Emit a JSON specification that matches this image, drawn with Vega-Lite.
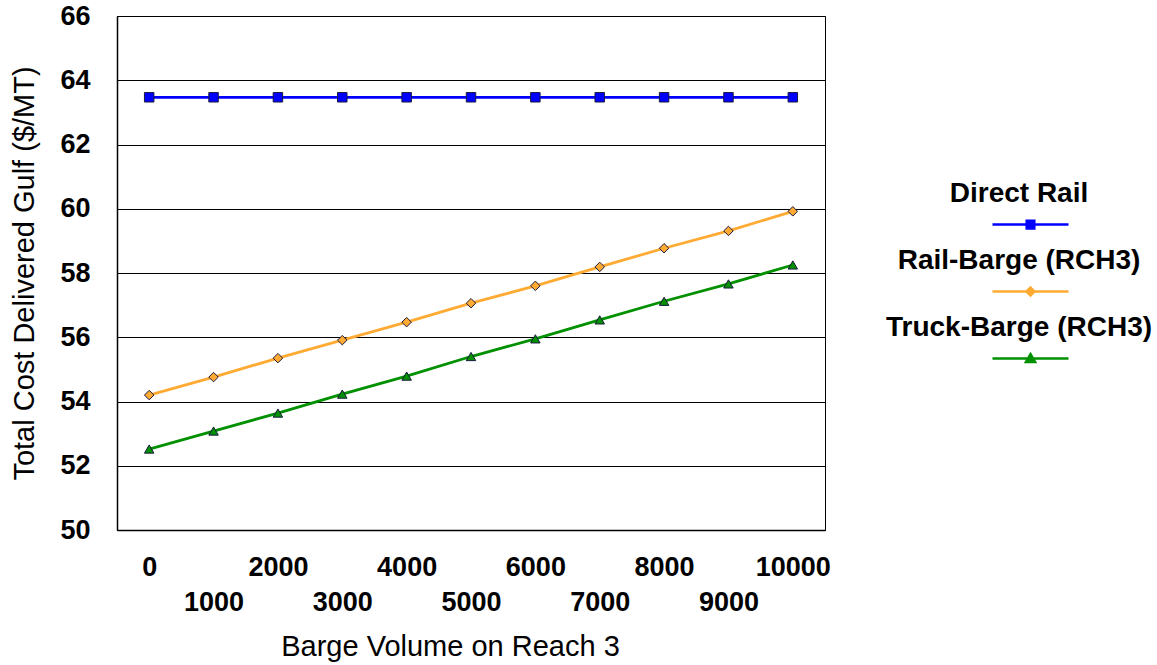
{
  "$schema": "https://vega.github.io/schema/vega-lite/v6.json",
  "width": 708,
  "height": 514,
  "autosize": {"type": "none"},
  "padding": {"left": 117, "top": 16, "right": 332, "bottom": 135},
  "background": "white",
  "config": {
    "font": "Liberation Sans",
    "view": {"stroke": "#000", "strokeWidth": 1},
    "axis": {
      "labelFont": "Liberation Sans",
      "labelFontSize": 27,
      "labelFontWeight": "bold",
      "labelColor": "#000",
      "titleFont": "Liberation Sans",
      "titleFontSize": 29,
      "titleFontWeight": "normal",
      "titleColor": "#000",
      "ticks": false,
      "domainColor": "#000",
      "gridColor": "#000",
      "gridOpacity": 1,
      "gridWidth": 1
    },
    "legend": {
      "orient": "none",
      "legendX": 893,
      "legendY": 171,
      "title": null,
      "direction": "vertical",
      "padding": 0,
      "labelFont": "Liberation Sans",
      "labelFontSize": 28,
      "labelFontWeight": "bold",
      "labelColor": "#000",
      "labelLimit": 0,
      "labelAlign": "center",
      "labelBaseline": "bottom",
      "labelOffset": -32,
      "symbolSize": 1444,
      "symbolStrokeWidth": 2.5,
      "symbolOpacity": 1,
      "rowPadding": 12
    }
  },
  "data": {
    "values": [
      {"volume": 0, "series": "Direct Rail", "cost": 63.47},
      {"volume": 1000, "series": "Direct Rail", "cost": 63.47},
      {"volume": 2000, "series": "Direct Rail", "cost": 63.47},
      {"volume": 3000, "series": "Direct Rail", "cost": 63.47},
      {"volume": 4000, "series": "Direct Rail", "cost": 63.47},
      {"volume": 5000, "series": "Direct Rail", "cost": 63.47},
      {"volume": 6000, "series": "Direct Rail", "cost": 63.47},
      {"volume": 7000, "series": "Direct Rail", "cost": 63.47},
      {"volume": 8000, "series": "Direct Rail", "cost": 63.47},
      {"volume": 9000, "series": "Direct Rail", "cost": 63.47},
      {"volume": 10000, "series": "Direct Rail", "cost": 63.47},
      {"volume": 0, "series": "Rail-Barge (RCH3)", "cost": 54.2},
      {"volume": 1000, "series": "Rail-Barge (RCH3)", "cost": 54.76},
      {"volume": 2000, "series": "Rail-Barge (RCH3)", "cost": 55.35},
      {"volume": 3000, "series": "Rail-Barge (RCH3)", "cost": 55.91},
      {"volume": 4000, "series": "Rail-Barge (RCH3)", "cost": 56.47},
      {"volume": 5000, "series": "Rail-Barge (RCH3)", "cost": 57.06},
      {"volume": 6000, "series": "Rail-Barge (RCH3)", "cost": 57.6},
      {"volume": 7000, "series": "Rail-Barge (RCH3)", "cost": 58.19},
      {"volume": 8000, "series": "Rail-Barge (RCH3)", "cost": 58.77},
      {"volume": 9000, "series": "Rail-Barge (RCH3)", "cost": 59.31},
      {"volume": 10000, "series": "Rail-Barge (RCH3)", "cost": 59.92},
      {"volume": 0, "series": "Truck-Barge (RCH3)", "cost": 52.52},
      {"volume": 1000, "series": "Truck-Barge (RCH3)", "cost": 53.08},
      {"volume": 2000, "series": "Truck-Barge (RCH3)", "cost": 53.64},
      {"volume": 3000, "series": "Truck-Barge (RCH3)", "cost": 54.23},
      {"volume": 4000, "series": "Truck-Barge (RCH3)", "cost": 54.79},
      {"volume": 5000, "series": "Truck-Barge (RCH3)", "cost": 55.4},
      {"volume": 6000, "series": "Truck-Barge (RCH3)", "cost": 55.95},
      {"volume": 7000, "series": "Truck-Barge (RCH3)", "cost": 56.54},
      {"volume": 8000, "series": "Truck-Barge (RCH3)", "cost": 57.12},
      {"volume": 9000, "series": "Truck-Barge (RCH3)", "cost": 57.66},
      {"volume": 10000, "series": "Truck-Barge (RCH3)", "cost": 58.25}
    ]
  },
  "encoding": {
    "x": {
      "field": "volume",
      "type": "ordinal",
      "scale": {"type": "point", "padding": 0.5},
      "axis": {
        "title": "Barge Volume on Reach 3",
        "labelAngle": 0,
        "labelPadding": 24,
        "labelBaseline": "top",
        "labelLineHeight": 35,
        "labelOverlap": false,
        "labelExpr": "datum.value % 2000 == 0 ? datum.label : ['', datum.label]",
        "titlePadding": 17,
        "titleX": 333,
        "domainWidth": 1.5,
        "grid": false
      }
    },
    "y": {
      "field": "cost",
      "type": "quantitative",
      "scale": {"domain": [50, 66], "nice": false, "zero": false},
      "axis": {
        "title": "Total Cost Delivered Gulf ($/MT)",
        "values": [50, 52, 54, 56, 58, 60, 62, 64, 66],
        "labelPadding": 27,
        "titlePadding": 20,
        "domainWidth": 1.5,
        "grid": true
      }
    }
  },
  "layer": [
    {
      "mark": {"type": "line", "strokeWidth": 2.8},
      "encoding": {
        "stroke": {
          "field": "series",
          "type": "nominal",
          "scale": {
            "domain": ["Direct Rail", "Rail-Barge (RCH3)", "Truck-Barge (RCH3)"],
            "range": ["#0000FF", "#FFAA33", "#009000"]
          },
          "legend": null
        }
      }
    },
    {
      "mark": {"type": "point", "filled": true, "size": 90, "stroke": "#1a1a40", "strokeWidth": 1, "opacity": 1},
      "encoding": {
        "fill": {
          "field": "series",
          "type": "nominal",
          "scale": {
            "domain": ["Direct Rail", "Rail-Barge (RCH3)", "Truck-Barge (RCH3)"],
            "range": ["#0000FF", "#FFAA33", "#009000"]
          },
          "legend": null
        },
        "shape": {
          "field": "series",
          "type": "nominal",
          "scale": {
            "domain": ["Direct Rail", "Rail-Barge (RCH3)", "Truck-Barge (RCH3)"],
            "range": ["square", "diamond", "triangle-up"]
          },
          "legend": null
        }
      }
    },
    {
      "mark": {"type": "point", "filled": true, "opacity": 0, "strokeWidth": 2.5},
      "encoding": {
        "fill": {
          "field": "series",
          "type": "nominal",
          "scale": {
            "domain": ["Direct Rail", "Rail-Barge (RCH3)", "Truck-Barge (RCH3)"],
            "range": ["#0000FF", "#FFAA33", "#009000"]
          },
          "legend": {}
        },
        "stroke": {
          "field": "series",
          "type": "nominal",
          "scale": {
            "domain": ["Direct Rail", "Rail-Barge (RCH3)", "Truck-Barge (RCH3)"],
            "range": ["#0000FF", "#FFAA33", "#009000"]
          },
          "legend": {}
        },
        "shape": {
          "field": "series",
          "type": "nominal",
          "scale": {
            "domain": ["Direct Rail", "Rail-Barge (RCH3)", "Truck-Barge (RCH3)"],
            "range": [
              "M-2,0.9H2M-0.2,0.7H0.2V1.1H-0.2Z",
              "M-2,0.9H2M0,0.69L0.21,0.9L0,1.11L-0.21,0.9Z",
              "M-2,0.9H2M0,0.67L0.24,1.08H-0.24Z"
            ]
          },
          "legend": {}
        }
      }
    }
  ],
  "resolve": {"scale": {"shape": "independent", "fill": "independent", "stroke": "independent"}}
}
